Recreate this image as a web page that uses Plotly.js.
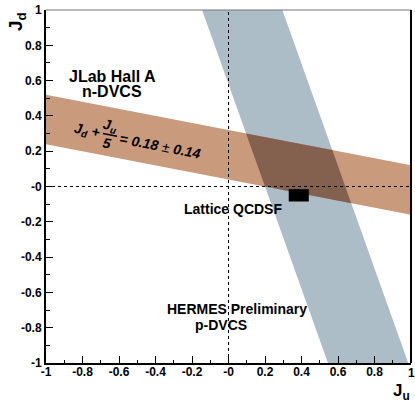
<!DOCTYPE html>
<html>
<head>
<meta charset="utf-8">
<script src="https://cdn.plot.ly/plotly-3.0.1.min.js"></script>
<style>
html,body{margin:0;padding:0;background:#fff;}
#chart{width:415px;height:402px;}
</style>
</head>
<body>
<div id="chart"></div>
<script>
// JLab Hall A n-DVCS constraint: J_d + J_u/5 = 0.18 +- 0.14
const jlabFit = [0.18, 0.14];
const jlabCoef = 5;
// HERMES p-DVCS constraint: J_u + J_d/2.9 = 0.42 +- 0.22
const hermesFit = [0.42, 0.22];
const hermesCoef = 2.9;
// Lattice QCDSF point (box extent)
const latticeJu = [0.33, 0.44];
const latticeJd = [-0.085, -0.015];
// axis ticks
const tickVals = [-1, -0.8, -0.6, -0.4, -0.2, 0, 0.2, 0.4, 0.6, 0.8, 1];
const tickText = ['-1', '-0.8', '-0.6', '-0.4', '-0.2', '-0', '0.2', '0.4', '0.6', '0.8', '1'];
const axisRange = [-1, 1];

const FONT = 'Liberation Sans, Arial, Helvetica, sans-serif';
const BROWN = '#c99a7c';
const GREY = '#adbdc8';
const DARK = '#84614f';

// JLab band: J_d as function of J_u
const jlabLo = jlabFit[0] - jlabFit[1], jlabHi = jlabFit[0] + jlabFit[1];
const jd = (c, ju) => c - ju / jlabCoef;
// HERMES band: J_u as function of J_d
const hLo = hermesFit[0] - hermesFit[1], hHi = hermesFit[0] + hermesFit[1];
const ju = (c, jdv) => c - jdv / hermesCoef;
// intersection of J_d + J_u/a = A and J_u + J_d/b = B
function cross(A, B) {
  const x = (B - A / hermesCoef) / (1 - 1 / (jlabCoef * hermesCoef));
  return [x, A - x / jlabCoef];
}

const [r0, r1] = axisRange;
const traces = [];
traces.push({ // HERMES band
  x: [ju(hLo, r1), ju(hLo, r0), ju(hHi, r0), ju(hHi, r1)],
  y: [r1, r0, r0, r1],
  mode: 'lines', fill: 'toself', fillcolor: GREY, line: {width: 0}, hoverinfo: 'skip'
});
traces.push({ // JLab band
  x: [r0, r1, r1, r0],
  y: [jd(jlabLo, r0), jd(jlabLo, r1), jd(jlabHi, r1), jd(jlabHi, r0)],
  mode: 'lines', fill: 'toself', fillcolor: BROWN, line: {width: 0}, hoverinfo: 'skip'
});
const c1 = cross(jlabLo, hLo), c2 = cross(jlabLo, hHi), c3 = cross(jlabHi, hHi), c4 = cross(jlabHi, hLo);
traces.push({ // overlap
  x: [c1[0], c2[0], c3[0], c4[0]],
  y: [c1[1], c2[1], c3[1], c4[1]],
  mode: 'lines', fill: 'toself', fillcolor: DARK, line: {width: 0}, hoverinfo: 'skip'
});
traces.push({ // vertical dotted
  x: [0, 0], y: axisRange, mode: 'lines', line: {color: '#000', width: 1, dash: 'dot'}, hoverinfo: 'skip'
});
traces.push({ // horizontal dotted
  x: axisRange, y: [0, 0], mode: 'lines', line: {color: '#000', width: 1, dash: 'dot'}, hoverinfo: 'skip'
});
traces.push({ // lattice box
  x: [latticeJu[0], latticeJu[1], latticeJu[1], latticeJu[0]],
  y: [latticeJd[0], latticeJd[0], latticeJd[1], latticeJd[1]],
  mode: 'lines', fill: 'toself', fillcolor: '#000', line: {width: 0}, hoverinfo: 'skip'
});

// pixel -> data helpers for text placement
const R = 411; // right edge of plot in pixels
const X = px => -1 + 2 * (px - 46) / (R - 46);
const Y = py => 1 - (py - 10) / 176.5;
const PX = px => (px - 46) / (R - 46);
const PY = py => (363 - py) / 353;

const bold = (s) => ({family: FONT, size: s, color: '#000', weight: 700});
const bi = (s) => ({family: FONT, size: s, color: '#000', weight: 700, style: 'italic'});

const lastIdx = tickVals.length - 1;
const ann = [
  {text: 'JLab Hall A', x: X(112), y: Y(76), font: bold(16)},
  {text: 'n-DVCS', x: X(112), y: Y(91), font: bold(16)},
  {text: 'Lattice QCDSF', x: X(233), y: Y(209), font: bold(14)},
  {text: 'HERMES Preliminary', x: X(237), y: Y(309), font: bold(14)},
  {text: 'p-DVCS', x: X(221), y: Y(325), font: bold(14)},
  {text: 'J<sub>d</sub> +', x: X(87), y: Y(131), font: bi(14), textangle: 11},
  {text: 'J<sub>u</sub>', x: X(110), y: Y(126), font: bi(14), textangle: 11},
  {text: '5', x: X(107), y: Y(143), font: bi(14), textangle: 11},
  {text: '= 0.18 <span style="font-style:normal;font-weight:400">±</span> 0.14', x: X(160), y: Y(146), font: bi(14), textangle: 11},
  {text: 'J<sub>d</sub>', xref: 'paper', yref: 'paper', x: PX(17), y: PY(21), font: bold(19), textangle: -90},
  {text: 'J<sub>u</sub>', xref: 'paper', yref: 'paper', x: PX(412), y: PY(392), xanchor: 'right', font: bold(17)},
  // last x tick label (Plotly drops it at the div edge)
  {text: tickText[lastIdx], x: tickVals[lastIdx], yref: 'paper', y: PY(373), font: bold(12)}
].map(a => Object.assign({xref: 'x', yref: 'y', showarrow: false, xanchor: 'center', yanchor: 'middle'}, a));

const axisCommon = {
  range: axisRange, tickmode: 'array', tickvals: tickVals, ticktext: tickText,
  ticks: 'inside', ticklen: 7, tickwidth: 1, tickcolor: '#000',
  showline: true, linewidth: 2, linecolor: '#000', mirror: false,
  showgrid: false, zeroline: false, fixedrange: true,
  ticklabeloverflow: 'allow',
  tickfont: {family: FONT, size: 12, color: '#000', weight: 700},
  minor: {ticks: 'inside', ticklen: 3.5, tickwidth: 1, tickcolor: '#000', tick0: -1, dtick: 0.1, showgrid: false}
};

const layout = {
  width: 415, height: 402,
  margin: {l: 46, r: 415 - R, t: 10, b: 39},
  paper_bgcolor: '#fff', plot_bgcolor: '#fff',
  showlegend: false,
  xaxis: Object.assign({}, axisCommon, {ticklabelstandoff: -3,
    ticktext: tickText.map((t, i) => i === lastIdx ? ' ' : t)}),
  yaxis: Object.assign({}, axisCommon, {ticklabelstandoff: 0}),
  shapes: [
    {type: 'line', xref: 'x', yref: 'y', x0: X(103), y0: Y(133.5), x1: X(117), y1: Y(136.2), line: {color: '#000', width: 1.5}},
    {type: 'line', xref: 'paper', yref: 'paper', x0: 0, x1: 1, y0: 1, y1: 1, line: {color: '#777', width: 1}},
    {type: 'line', xref: 'paper', yref: 'paper', x0: 1, x1: 1, y0: 0, y1: 1, line: {color: '#000', width: 2}}
  ],
  annotations: ann
};

Plotly.newPlot('chart', traces, layout, {staticPlot: true, displayModeBar: false});
</script>
</body>
</html>
